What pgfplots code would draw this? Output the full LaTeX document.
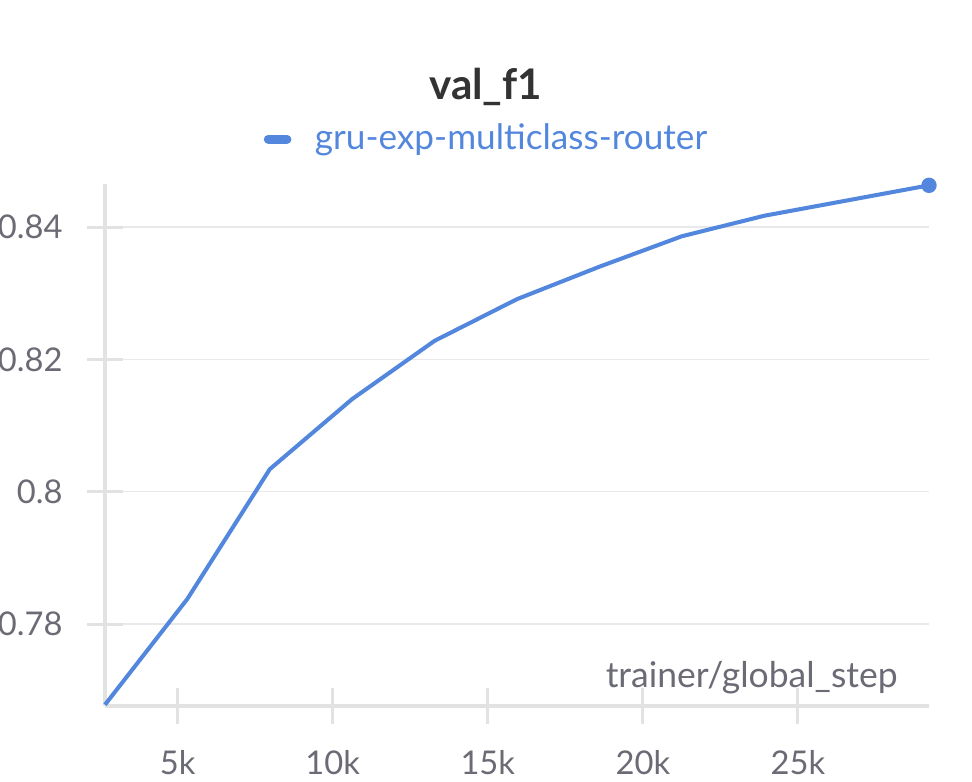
\documentclass[border=0pt]{standalone}
\usepackage{pgfplots}
\pgfplotsset{compat=1.18}
\usepackage{fontspec}
\setmainfont{Lato}
\definecolor{runblue}{HTML}{5387DD}
\definecolor{ticktext}{HTML}{6B6B76}
\definecolor{axisgray}{HTML}{E2E2E2}
\definecolor{gridgray}{HTML}{E9E9E9}
\definecolor{titlegray}{HTML}{333333}
\begin{document}
\begin{tikzpicture}
\path[use as bounding box] (-10.5mm,-7.6mm) rectangle (86.7mm,70.6mm);
\begin{axis}[
    at={(0,0)}, anchor=south west,
    scale only axis,
    width=82.4mm, height=52.2mm,
    xmin=2657, xmax=29227,
    ymin=0.76761, ymax=0.8465,
    axis lines=left,
    axis line style={-, draw=axisgray, line width=1.1pt},
    clip=false,
    xtick={5000,10000,15000,20000,25000},
    xticklabels={5k,10k,15k,20k,25k},
    ytick={0.78,0.8,0.82,0.84},
    yticklabels={0.78,0.8,0.82,0.84},
    scaled ticks=false,
    tick align=center,
    major tick length=3.6mm,
    tick style={draw=axisgray, line width=0.85pt},
    ymajorgrids,
    grid style={draw=gridgray, line width=0.45pt},
    ticklabel style={font=\fontsize{9.3}{11}\selectfont, text=ticktext},
    /pgf/number format/assume math mode=true,
    xticklabel style={yshift=-1.4mm},
    yticklabel style={xshift=-1.2mm},
    xlabel={trainer/global\_step},
    xlabel style={at={(rel axis cs:0.977,0.036)}, anchor=base east,
        font=\fontsize{10.1}{12}\selectfont, text=ticktext},
    title={val\_f1},
    title style={at={(0.462,1.145)}, anchor=center,
        font=\fontsize{12}{14}\selectfont\bfseries, text=titlegray},
    legend style={at={(rel axis cs:0.466,1.086)}, anchor=center,
        draw=none, fill=none, font=\fontsize{10}{12}\selectfont,
        text=runblue, inner sep=0pt},
    legend image code/.code={
        \path[draw=none] (0mm,0mm) -- (4.4mm,0mm);
        \draw[runblue, line width=2.6pt, line cap=round] (0.45mm,0mm) -- (2.3mm,0mm);
    },
]
\addplot[runblue, line width=1.15pt, line join=round] coordinates {
    (2657,0.7678) (5314,0.7838) (7971,0.8034) (10628,0.8140)
    (13285,0.8228) (15942,0.8291) (18599,0.8340) (21256,0.8386)
    (23913,0.8417) (26570,0.8440) (29227,0.8463)
};
\addlegendentry{gru-exp-multiclass-router}
\addplot[runblue, only marks, mark=*, mark size=0.7mm, forget plot] coordinates {
    (29227,0.8463)
};
\end{axis}
\end{tikzpicture}
\end{document}
